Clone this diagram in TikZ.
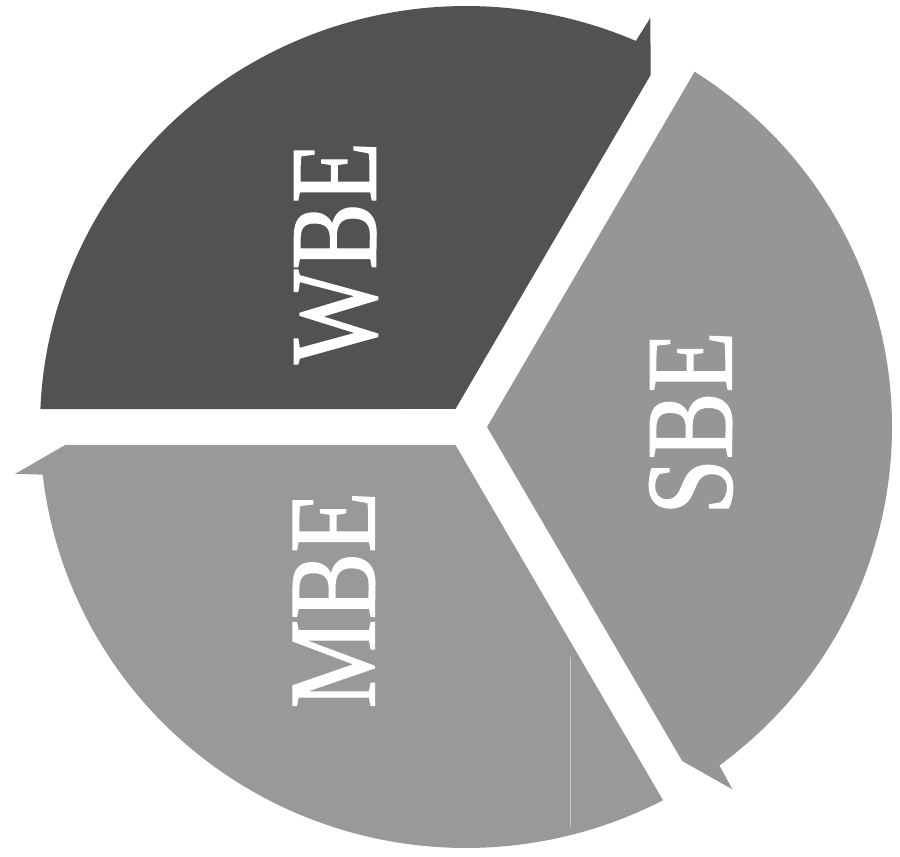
\documentclass[tikz,border=0pt]{standalone}
\usepackage{fontspec}
\setmainfont{Liberation Serif}
\newfontfamily\lblfont[FakeBold=1.2]{Liberation Serif}
\usepackage{graphicx}
\definecolor{wbecol}{gray}{0.32}
\definecolor{sbecol}{gray}{0.59}
\definecolor{mbecol}{gray}{0.60}
\definecolor{scanline}{gray}{0.80}
\begin{document}
\begin{tikzpicture}[x=1pt,y=1pt,
  seglabel/.style={text=white, inner sep=0pt, rotate=90,
    font=\lblfont\fontsize{100}{100}\selectfont}]
\useasboundingbox (0,0) rectangle (900,857);
\begin{scope}[shift={(466,430)}, xscale=1.012]
  % WBE segment (from 180 deg clockwise to 60 deg)
  \fill[wbecol] (120:20.78) -- (177.55:421)
    arc[start angle=177.55, end angle=66.5, radius=421]
    -- (66:448) -- ([shift={(150:18)}]60:396) -- cycle;
  % SBE segment (from 60 deg clockwise to -60 deg)
  \fill[sbecol] (0:20.78) -- (57.55:421)
    arc[start angle=57.55, end angle=-53.5, radius=421]
    -- (-54:448) -- ([shift={(30:18)}]-60:396) -- cycle;
  % MBE segment (from -60 deg clockwise to -180 deg)
  \fill[mbecol] (-120:20.78) -- (-62.45:421)
    arc[start angle=-62.45, end angle=-173.5, radius=421]
    -- (-174:448) -- ([shift={(-90:18)}]-180:396) -- cycle;
\end{scope}
\coordinate (sl1) at (570,200);
\coordinate (sl2) at (570,30);
\draw[scanline, line width=1pt] (sl1) -- (sl2);
\node[seglabel] (wbe) at (336,604) {\scalebox{1}[1.24]{WBE}};
\node[seglabel] (sbe) at (691,434) {\scalebox{1}[1.24]{SBE}};
\node[seglabel] (mbe) at (334,257) {\scalebox{1}[1.24]{MBE}};
\end{tikzpicture}
\end{document}
